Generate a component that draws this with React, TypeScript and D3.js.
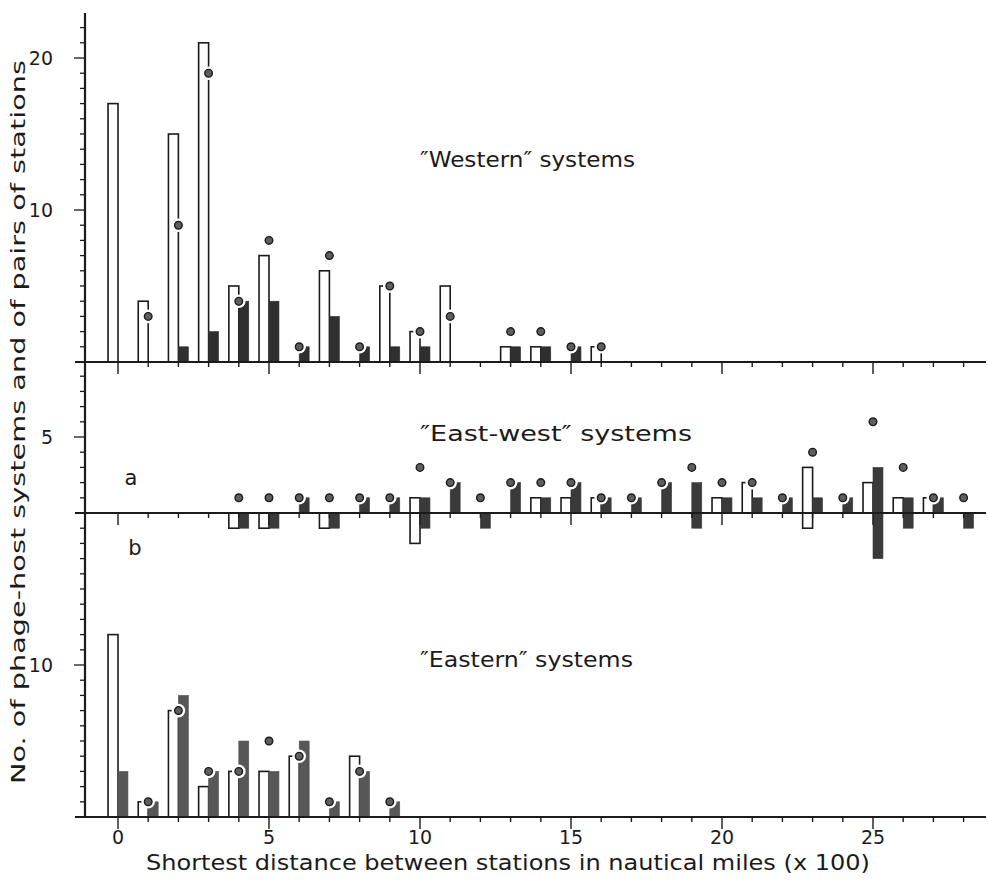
import React from 'react';
import * as d3 from 'd3';

// ---- Data ----
const westernX = [0, 1, 2, 3, 4, 5, 6, 7, 8, 9, 10, 11, 12, 13, 14, 15, 16];
const westernWhite = [17, 4, 15, 21, 5, 7, 0, 6, 0, 5, 2, 5, 0, 1, 1, 0, 1];
const westernDark = [0, 0, 1, 2, 4, 4, 1, 3, 1, 1, 1, 0, 0, 1, 1, 1, 0];
const westernDot: (number | null)[] = [null, 3, 9, 19, 4, 8, 1, 7, 1, 5, 2, 3, null, 2, 2, 1, 1];

const eastWestX = [4, 5, 6, 7, 8, 9, 10, 11, 12, 13, 14, 15, 16, 17, 18, 19, 20, 21, 22, 23, 24, 25, 26, 27, 28];
const eastWestWhiteA = [0, 0, 0, 0, 0, 0, 1, 0, 0, 0, 1, 1, 1, 0, 0, 0, 1, 2, 0, 3, 0, 2, 1, 1, 0];
const eastWestDarkA = [0, 0, 1, 0, 1, 1, 1, 2, 0, 2, 1, 2, 1, 1, 2, 2, 1, 1, 1, 1, 1, 3, 1, 1, 0];
const eastWestWhiteB = [1, 1, 0, 1, 0, 0, 2, 0, 0, 0, 0, 0, 0, 0, 0, 0, 0, 0, 0, 1, 0, 0, 0, 0, 0];
const eastWestDarkB = [1, 1, 0, 1, 0, 0, 1, 0, 1, 0, 0, 0, 0, 0, 0, 1, 0, 0, 0, 0, 0, 3, 1, 0, 1];
const eastWestDot = [1, 1, 1, 1, 1, 1, 3, 2, 1, 2, 2, 2, 1, 1, 2, 3, 2, 2, 1, 4, 1, 6, 3, 1, 1];

const easternX = [0, 1, 2, 3, 4, 5, 6, 7, 8, 9];
const easternWhite = [12, 1, 7, 2, 3, 3, 4, 0, 4, 0];
const easternDark = [3, 1, 8, 3, 5, 3, 5, 1, 3, 1];
const easternDot: (number | null)[] = [null, 1, 7, 3, 3, 5, 4, 1, 3, 1];

const xTickValues = d3.range(0, 29);
const xLabelValues = [0, 5, 10, 15, 20, 25];
const yLabelsTop = [10, 20];
const yLabelsMid = [5];
const yLabelsBottom = [10];

const INK = '#1b1b1b';
const FONT = '"DejaVu Sans", sans-serif';

export default function App() {
  const x = d3.scaleLinear().domain([0, 28]).range([118, 963.6]);
  const yTop = d3.scaleLinear().domain([0, 20]).range([362, 58]);
  const yMid = d3.scaleLinear().domain([0, 5]).range([513, 437]);
  const yBot = d3.scaleLinear().domain([0, 10]).range([817, 665]);
  const bw = x(0.33) - x(0);
  const axisLeft = 85;
  const axisRight = 986;

  const whiteBar = (key: string, xv: number, y0: number, y1: number) => {
    if (y0 === y1) return null;
    return (
      <rect key={key} x={x(xv) - bw} y={Math.min(y0, y1)} width={bw} height={Math.abs(y1 - y0)}
        fill="#fff" stroke={INK} strokeWidth={1.6} />
    );
  };
  const darkBar = (key: string, xv: number, y0: number, y1: number, fill: string) => {
    if (y0 === y1) return null;
    return (
      <rect key={key} x={x(xv)} y={Math.min(y0, y1)} width={bw} height={Math.abs(y1 - y0)}
        fill={fill} stroke={fill} strokeWidth={0.6} />
    );
  };
  const dot = (key: string, xv: number, yv: number) => (
    <g key={key}>
      <circle cx={x(xv)} cy={yv} r={6.8} fill="#fff" />
      <circle cx={x(xv)} cy={yv} r={3.8} fill="#5e5e5e" stroke={INK} strokeWidth={1.4} />
    </g>
  );

  const xTicks = (key: string, y0: number) =>
    xTickValues.map((t) => (
      <line key={key + t} x1={x(t)} x2={x(t)} y1={y0} y2={y0 + (t % 5 === 0 ? 12 : 5)}
        stroke={INK} strokeWidth={1.4} />
    ));

  const yTicks: JSX.Element[] = [];
  d3.range(1, 23).forEach((v) => {
    const major = v % 10 === 0;
    yTicks.push(<line key={'yt' + v} x1={axisLeft - (major ? 11 : 5)} x2={axisLeft} y1={yTop(v)} y2={yTop(v)} stroke={INK} strokeWidth={1.3} />);
  });
  d3.range(1, 10).forEach((v) => {
    const major = v === 5;
    yTicks.push(<line key={'ym' + v} x1={axisLeft - (major ? 11 : 5)} x2={axisLeft} y1={yMid(v)} y2={yMid(v)} stroke={INK} strokeWidth={1.3} />);
  });
  d3.range(1, 20).forEach((v) => {
    const major = v === 10;
    yTicks.push(<line key={'yb' + v} x1={axisLeft - (major ? 11 : 5)} x2={axisLeft} y1={yBot(v)} y2={yBot(v)} stroke={INK} strokeWidth={1.3} />);
  });

  const bars: (JSX.Element | null)[] = [];
  const dots: JSX.Element[] = [];

  westernX.forEach((xv, i) => {
    bars.push(whiteBar('ww' + i, xv, yTop(0), yTop(westernWhite[i])));
    bars.push(darkBar('wd' + i, xv, yTop(0), yTop(westernDark[i]), '#2f2f2f'));
    const d = westernDot[i];
    if (d != null) dots.push(dot('wdot' + i, xv, yTop(d)));
  });
  eastWestX.forEach((xv, i) => {
    bars.push(whiteBar('ewa' + i, xv, yMid(0), yMid(eastWestWhiteA[i])));
    bars.push(darkBar('eda' + i, xv, yMid(0), yMid(eastWestDarkA[i]), '#3a3a3a'));
    bars.push(whiteBar('ewb' + i, xv, yMid(0), yMid(-eastWestWhiteB[i])));
    bars.push(darkBar('edb' + i, xv, yMid(0), yMid(-eastWestDarkB[i]), '#3a3a3a'));
    dots.push(dot('edot' + i, xv, yMid(eastWestDot[i])));
  });
  easternX.forEach((xv, i) => {
    bars.push(whiteBar('ew' + i, xv, yBot(0), yBot(easternWhite[i])));
    bars.push(darkBar('ed' + i, xv, yBot(0), yBot(easternDark[i]), '#575757'));
    const d = easternDot[i];
    if (d != null) dots.push(dot('edt' + i, xv, yBot(d)));
  });

  const textStyle = { fontFamily: FONT, fill: INK } as const;

  return (
    <svg width={988} height={886} style={{ position: 'absolute', left: 0, top: 0, background: '#fff' }}>
      <rect x={0} y={0} width={988} height={886} fill="#fff" />
      {bars}
      {/* baselines */}
      {[yTop(0), yMid(0), yBot(0)].map((yy, i) => (
        <line key={'bl' + i} x1={75} x2={axisRight} y1={yy} y2={yy} stroke={INK} strokeWidth={2} />
      ))}
      {xTicks('xt', yTop(0))}
      {xTicks('xm', yMid(0))}
      {xTicks('xb', yBot(0))}
      {/* y axis */}
      <line x1={axisLeft} x2={axisLeft} y1={13} y2={yBot(0)} stroke={INK} strokeWidth={2.2} />
      {yTicks}
      {dots}

      {/* y tick labels */}
      {yLabelsTop.map((v) => (
        <text key={'lt' + v} x={53} y={yTop(v)} dy="0.35em" textAnchor="end" fontSize={19} style={textStyle}>{v}</text>
      ))}
      {yLabelsMid.map((v) => (
        <text key={'lm' + v} x={47} y={yMid(v)} dy="0.35em" textAnchor="middle" fontSize={19} style={textStyle}>{v}</text>
      ))}
      {yLabelsBottom.map((v) => (
        <text key={'lb' + v} x={53} y={yBot(v)} dy="0.35em" textAnchor="end" fontSize={19} style={textStyle}>{v}</text>
      ))}

      {/* x tick labels */}
      {xLabelValues.map((v) => (
        <text key={'xl' + v} x={x(v)} y={844} textAnchor="middle" fontSize={19} style={textStyle}>{v}</text>
      ))}

      {/* axis titles */}
      <text x={508} y={870} textAnchor="middle" fontSize={21} textLength={724} lengthAdjust="spacingAndGlyphs" style={textStyle}>
        Shortest distance between stations in nautical miles (x 100)
      </text>
      <text transform="translate(25,422) rotate(-90)" textAnchor="middle" fontSize={19} textLength={724} lengthAdjust="spacingAndGlyphs" style={textStyle}>
        No. of phage-host systems and of pairs of stations
      </text>

      {/* panel labels */}
      <text x={420} y={167} fontSize={21} textLength={215} lengthAdjust="spacingAndGlyphs" style={textStyle}>″Western″ systems</text>
      <text x={420} y={441} fontSize={21} textLength={272} lengthAdjust="spacingAndGlyphs" style={textStyle}>″East-west″ systems</text>
      <text x={420} y={667} fontSize={21} textLength={213} lengthAdjust="spacingAndGlyphs" style={textStyle}>″Eastern″ systems</text>
      <text x={131} y={485} textAnchor="middle" fontSize={21} style={textStyle}>a</text>
      <text x={135} y={555} textAnchor="middle" fontSize={21} style={textStyle}>b</text>
    </svg>
  );
}
